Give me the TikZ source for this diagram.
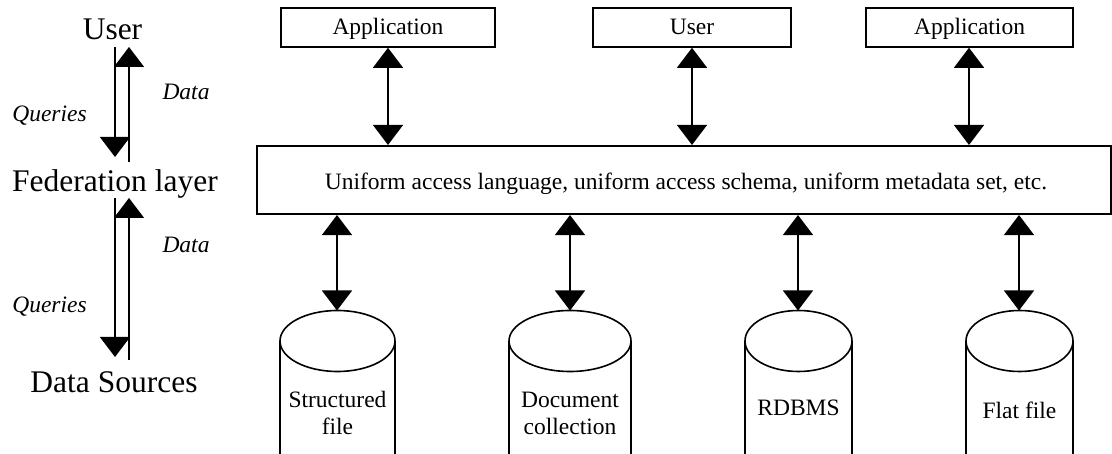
\documentclass[tikz,border=0pt]{standalone}
\usepackage{fontspec}
\setmainfont{Liberation Serif}
\usetikzlibrary{arrows.meta}
\newcommand{\bigfont}{\fontsize{31.5}{36}\selectfont}
\newcommand{\smallfont}{\fontsize{23.5}{27.7}\selectfont}
\tikzset{
  tri/.tip={Triangle[length=20pt,width=30pt]},
  conn/.style={line width=1.5pt},
  boxnode/.style={draw,line width=1.6pt,inner sep=0pt,minimum height=39pt},
  biglabel/.style={font=\bigfont,inner sep=0pt,anchor=base},
  itlabel/.style={font=\smallfont\itshape,inner sep=0pt,anchor=base},
  boxtext/.style={font=\smallfont,inner sep=0pt,anchor=base},
  cyl/.style={line width=1.6pt},
  cyltext/.style={font=\smallfont,inner sep=0pt,anchor=base}
}
\begin{document}
\begin{tikzpicture}[x=1pt,y=-1pt]
\useasboundingbox (0,0) rectangle (1112,454);

% left column labels
\node[biglabel] (user) at (112.5,39.3) {User};
\node[biglabel] (fedl) at (115,191.7) {Federation layer};
\node[biglabel] (dsrc) at (114,392.7) {Data Sources};

\node[itlabel] (q1) at (49.5,121.7) {Queries};
\node[itlabel] (d1) at (186,100) {Data};
\node[itlabel] (d2) at (186,252.3) {Data};
\node[itlabel] (q2) at (49.5,312.3) {Queries};

\coordinate (q1s) at (115,47);
\coordinate (q1e) at (115,157);
\coordinate (d1s) at (129,162);
\coordinate (d1e) at (129,47);
\coordinate (q2s) at (115,198);
\coordinate (q2e) at (115,357);
\coordinate (d2s) at (129,360);
\coordinate (d2e) at (129,198);

\draw[conn,-tri] (q1s) -- (q1e);
\draw[conn,-tri] (d1s) -- (d1e);
\draw[conn,-tri] (q2s) -- (q2e);
\draw[conn,-tri] (d2s) -- (d2e);

% top boxes
\node[boxnode,minimum width=214pt] (app1) at (388,27.5) {};
\node[boxnode,minimum width=198pt] (usr) at (692,27.5) {};
\node[boxnode,minimum width=207pt] (app2) at (969.5,27.5) {};
\node[boxtext] (app1t) at (388,34.3) {Application};
\node[boxtext] (usrt) at (692,34.3) {User};
\node[boxtext] (app2t) at (969.5,34.3) {Application};

% federation box
\node[draw,line width=1.6pt,inner sep=0pt,minimum width=854pt,minimum height=68.5pt] (fed) at (684,180) {};
\node[boxtext] (fedt) at (686,190) {Uniform access language, uniform access schema, uniform metadata set, etc.};

\draw[conn,tri-tri] (app1.south) -- (app1.south |- fed.north);
\draw[conn,tri-tri] (usr.south) -- (usr.south |- fed.north);
\draw[conn,tri-tri] (app2.south -| 969,0) -- (969,0 |- fed.north);

% cylinders
\foreach \name/\cx/\rx/\ax in {s/337.5/57.5/337, d/570/61/570, r/798.5/53.5/798, f/1019.5/53.5/1019}{
  \draw[cyl] (\cx,341) ellipse [x radius=\rx, y radius=30.5];
  \draw[cyl] (\cx-\rx,341) -- (\cx-\rx,456);
  \draw[cyl] (\cx+\rx,341) -- (\cx+\rx,456);
  \coordinate (top\name) at (\ax,310.5);
}

\node[cyltext] (ts) at (337.5,407.3) {\begin{tabular}[t]{@{}c@{}}Structured\\file\end{tabular}};
\node[cyltext] (td) at (570,407.3) {\begin{tabular}[t]{@{}c@{}}Document\\collection\end{tabular}};
\node[cyltext] (tr) at (798.5,415.7) {RDBMS};
\node[cyltext] (tf) at (1019.5,419) {Flat file};

\draw[conn,tri-tri] (tops |- fed.south) -- (tops);
\draw[conn,tri-tri] (topd |- fed.south) -- (topd);
\draw[conn,tri-tri] (topr |- fed.south) -- (topr);
\draw[conn,tri-tri] (topf |- fed.south) -- (topf);
\end{tikzpicture}
\end{document}
